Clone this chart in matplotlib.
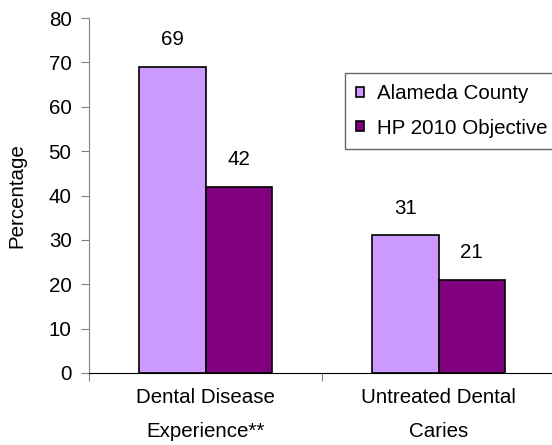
import matplotlib.pyplot as plt
import numpy as np

plt.rcParams['font.family'] = ['Liberation Sans', 'DejaVu Sans']

# data
categories = ['Dental Disease\nExperience**', 'Untreated Dental\nCaries']
series_names = ['Alameda County', 'HP 2010 Objective']
alameda = [69, 31]
hp2010 = [42, 21]
colors = ['#CC99FF', '#800080']

fs = 14.8

fig = plt.figure(figsize=(5.52, 4.45), dpi=100)
ax = fig.add_axes([89 / 552, 1 - 373 / 445, (555 - 89) / 552, (373 - 18) / 445])

x = np.arange(len(categories))
w = 0.285
bars1 = ax.bar(x - w / 2, alameda, w, color=colors[0], edgecolor='black', linewidth=1.2, label=series_names[0])
bars2 = ax.bar(x + w / 2, hp2010, w, color=colors[1], edgecolor='black', linewidth=1.2, label=series_names[1])

# value labels above bars
for bars in (bars1, bars2):
    for b in bars:
        ax.annotate(f'{b.get_height():.0f}', (b.get_x() + b.get_width() / 2, b.get_height()),
                    xytext=(0, 19.5), textcoords='offset points', ha='center', va='center', fontsize=fs)

ax.set_xlim(-0.5, 1.5)
ax.set_ylim(0, 80)
ax.set_yticks(range(0, 81, 10))
ax.set_xticks([-0.5, 0.5, 1.5])
ax.set_xticklabels([])
ax.set_xticks(x, minor=True)
ax.set_xticklabels(categories, minor=True, fontsize=fs, linespacing=1.95)
ax.tick_params(axis='x', which='minor', length=0, pad=11)
ax.tick_params(axis='x', which='major', length=6, direction='out', color='#808080')
ax.tick_params(axis='y', length=6, direction='out', color='#808080', labelsize=fs, pad=6.5)
ax.set_ylabel('Percentage', fontsize=fs, labelpad=16)

for s in ['top', 'right']:
    ax.spines[s].set_visible(False)
ax.spines['left'].set_color('#808080')
ax.spines['bottom'].set_color('black')

leg = ax.legend(loc='upper left', bbox_to_anchor=(345 / 552, 1 - 73 / 445), bbox_transform=fig.transFigure,
                fontsize=fs, frameon=True, fancybox=False, edgecolor='#404040', handlelength=0.36,
                handleheight=0.36, handletextpad=0.65, labelspacing=0.75, borderpad=0.55, borderaxespad=0)
leg.get_frame().set_linewidth(1)

fig.savefig('out.png', dpi=100)
